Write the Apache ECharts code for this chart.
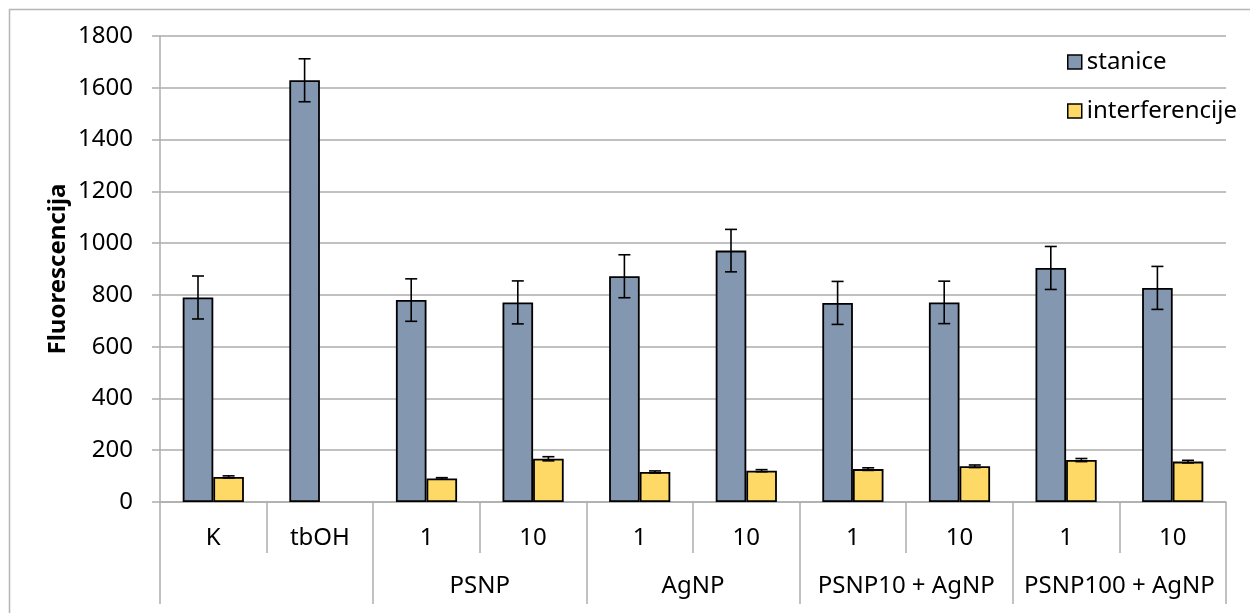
<!DOCTYPE html>
<html>
<head>
<meta charset="utf-8">
<script src="https://cdn.jsdelivr.net/npm/echarts@6/dist/echarts.min.js"></script>
<style>
html,body{margin:0;padding:0;background:#fff;}
#chart{width:1250px;height:613px;}
</style>
</head>
<body>
<div id="chart"></div>
<script>
// ---- data ----
const categories = ['K', 'tbOH', '1', '10', '1', '10', '1', '10', '1', '10'];
const groups = ['', 'PSNP', 'AgNP', 'PSNP10 + AgNP', 'PSNP100 + AgNP'];
const stanice = [790, 1629, 780, 771, 872, 971, 769, 771, 904, 827];
const staniceErr = [83, 83, 82, 83, 83, 82, 83, 82, 83, 83];
const interferencije = [97, null, 91, 167, 116, 121, 127, 138, 162, 156];
const interferencijeErr = [4, null, 3, 8, 4, 4, 5, 5, 6, 5];
const yTicks = { min: 0, max: 1800, interval: 200 };

const FONT = 'Noto Sans';
const FS = 24;
const BAR_FRAC = 0.287;
const GRID_COLOR = '#ADADAD';

function errData(vals, errs) {
  const out = [];
  vals.forEach((v, i) => { if (v != null && errs[i] != null) out.push([i, v, errs[i]]); });
  return out;
}

function makeErrRender(side) {
  return function (params, api) {
    const idx = api.value(0), v = api.value(1), e = api.value(2);
    const band = api.size([1, 0])[0];
    const off = side * band * BAR_FRAC / 2;
    const top = api.coord([idx, v + e]);
    const bot = api.coord([idx, v - e]);
    const x = top[0] + off;
    const cap = 6;
    const st = { stroke: '#000', lineWidth: 1.6 };
    return {
      type: 'group',
      children: [
        { type: 'line', shape: { x1: x, y1: top[1], x2: x, y2: bot[1] }, style: st },
        { type: 'line', shape: { x1: x - cap, y1: top[1], x2: x + cap, y2: top[1] }, style: st },
        { type: 'line', shape: { x1: x - cap, y1: bot[1], x2: x + cap, y2: bot[1] }, style: st }
      ]
    };
  };
}

const chart = echarts.init(document.getElementById('chart'));
chart.setOption({
  animation: false,
  backgroundColor: '#fff',
  textStyle: { fontFamily: FONT },
  graphic: [{
    type: 'rect', left: 7, top: 7, z: -1,
    shape: { x: 0, y: 0, width: 1300, height: 700 },
    style: { fill: 'none', stroke: '#B5B5B5', lineWidth: 1.5 }
  }],
  grid: { left: 160, right: 24, top: 36, bottom: 111 },
  legend: {
    orient: 'vertical', left: 1062, top: 45, itemGap: 25,
    itemWidth: 14, itemHeight: 14, icon: 'rect',
    itemStyle: { borderColor: '#000', borderWidth: 1.5 },
    textStyle: { fontFamily: FONT, fontSize: FS, color: '#000', lineHeight: 24 },
    data: ['stanice', 'interferencije']
  },
  xAxis: [{
    type: 'category', data: categories, position: 'bottom',
    axisLine: { show: true, lineStyle: { color: GRID_COLOR, width: 1.5 } },
    axisTick: { show: true, interval: 0, length: 51, lineStyle: { color: GRID_COLOR, width: 1.5 } },
    axisLabel: { interval: 0, margin: 24, fontSize: FS, color: '#000', fontFamily: FONT }
  }, {
    type: 'category', data: groups, position: 'bottom', offset: 51,
    axisLine: { show: false },
    axisTick: { show: true, interval: 0, length: 51, lineStyle: { color: GRID_COLOR, width: 1.5 } },
    axisLabel: { interval: 0, margin: 21, fontSize: FS, color: '#000', fontFamily: FONT }
  }],
  yAxis: {
    type: 'value', min: yTicks.min, max: yTicks.max, interval: yTicks.interval,
    name: 'Fluorescencija', nameLocation: 'middle', nameRotate: 90, nameGap: 90,
    nameMoveOverlap: false,
    nameTextStyle: { fontFamily: FONT, fontSize: FS, fontWeight: 'bold', color: '#000' },
    axisLine: { show: true, lineStyle: { color: GRID_COLOR, width: 1.5 } },
    axisTick: { show: true, length: 8, lineStyle: { color: GRID_COLOR, width: 1.5 } },
    axisLabel: { margin: 27, fontSize: FS, color: '#000', fontFamily: FONT, formatter: v => String(v) },
    splitLine: { show: true, lineStyle: { color: GRID_COLOR, width: 1.5 } }
  },
  series: [{
    name: 'stanice', type: 'bar', data: stanice,
    barWidth: (BAR_FRAC * 100) + '%', barGap: '0%',
    itemStyle: { color: '#8497B0', borderColor: '#000', borderWidth: 1.8 }
  }, {
    name: 'interferencije', type: 'bar', data: interferencije,
    barWidth: (BAR_FRAC * 100) + '%', barGap: '0%',
    itemStyle: { color: '#FFD966', borderColor: '#000', borderWidth: 1.8 }
  }, {
    type: 'custom', name: 'errS', data: errData(stanice, staniceErr),
    renderItem: makeErrRender(-1), encode: { x: 0, y: 1 }, z: 5, silent: true
  }, {
    type: 'custom', name: 'errI', data: errData(interferencije, interferencijeErr),
    renderItem: makeErrRender(1), encode: { x: 0, y: 1 }, z: 5, silent: true
  }]
});
</script>
</body>
</html>
